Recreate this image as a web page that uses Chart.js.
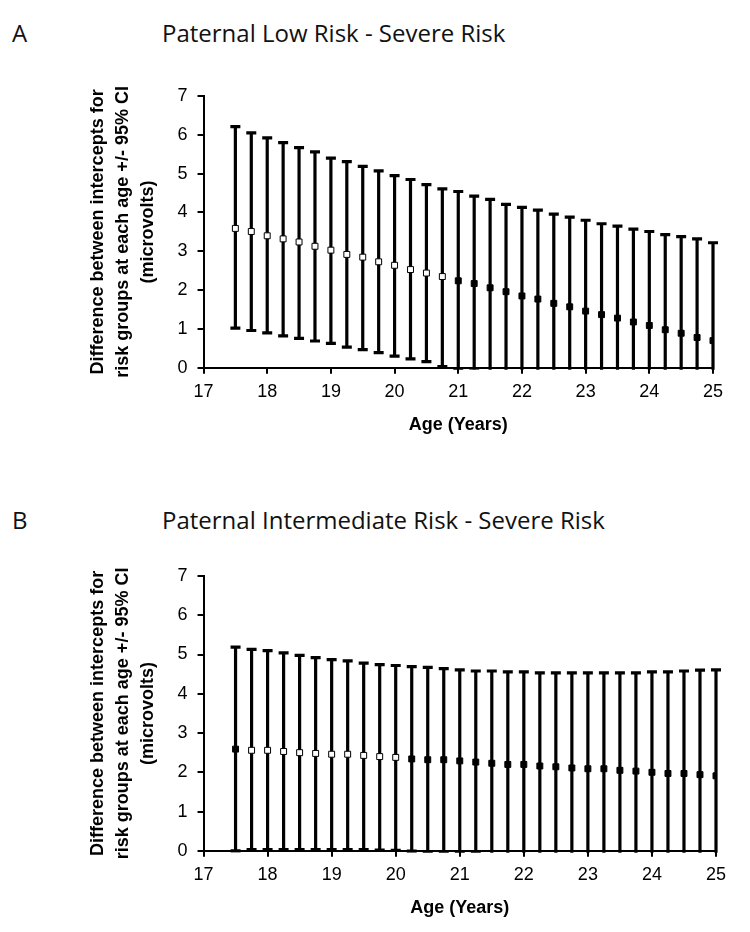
<!DOCTYPE html>
<html>
<head>
<meta charset="utf-8">
<script src="https://cdn.jsdelivr.net/npm/chart.js@4.4.1/dist/chart.umd.min.js"></script>
<style>
    html, body { margin: 0; padding: 0; background: #fff; }
    body { width: 750px; height: 932px; position: relative; overflow: hidden; }
    .panel-letter, .panel-title {
        position: absolute;
        font-family: "Open Sans", "Liberation Sans", sans-serif;
        font-size: 24px;
        color: #111;
        line-height: 1;
        white-space: nowrap;
    }
    .chart-box { position: absolute; left: 0; width: 750px; }
</style>
</head>
<body>
<div class="panel-letter" style="left:12px; top:21px;">A</div>
<div class="panel-title" style="left:162px; top:21px;">Paternal Low Risk - Severe Risk</div>
<div class="chart-box" style="top:62px; height:376px;"><canvas id="chartLow"></canvas></div>

<div class="panel-letter" style="left:12px; top:508px;">B</div>
<div class="panel-title" style="left:162px; top:508px;">Paternal Intermediate Risk - Severe Risk</div>
<div class="chart-box" style="top:542px; height:379px;"><canvas id="chartInt"></canvas></div>

<script>
// ========================================
// DATA
// ========================================

const ages = [17.5, 17.75, 18, 18.25, 18.5, 18.75, 19, 19.25, 19.5, 19.75, 20, 20.25, 20.5, 20.75, 21,
    21.25, 21.5, 21.75, 22, 22.25, 22.5, 22.75, 23, 23.25, 23.5, 23.75, 24, 24.25, 24.5, 24.75, 25];

// A - Paternal Low Risk - Severe Risk
const lowMean = [3.59, 3.51, 3.40, 3.32, 3.24, 3.13, 3.03, 2.92, 2.85, 2.73, 2.64, 2.53, 2.44, 2.35, 2.24,
    2.17, 2.06, 1.96, 1.85, 1.77, 1.66, 1.57, 1.46, 1.37, 1.28, 1.18, 1.09, 0.98, 0.89, 0.78, 0.70];
const lowUpper = [6.21, 6.05, 5.92, 5.80, 5.67, 5.56, 5.40, 5.31, 5.19, 5.07, 4.95, 4.85, 4.72, 4.61, 4.54,
    4.42, 4.34, 4.21, 4.13, 4.06, 3.96, 3.88, 3.80, 3.71, 3.65, 3.57, 3.51, 3.43, 3.38, 3.32, 3.22];
const lowLower = [1.02, 0.96, 0.90, 0.82, 0.76, 0.69, 0.63, 0.53, 0.47, 0.39, 0.30, 0.23, 0.16, 0.03, -0.02,
    -0.08, -0.22, -0.29, -0.43, -0.52, -0.64, -0.74, -0.88, -0.97, -1.09, -1.21, -1.33, -1.47, -1.60, -1.76, -1.82];

// B - Paternal Intermediate Risk - Severe Risk
const intMean = [2.59, 2.56, 2.56, 2.53, 2.50, 2.48, 2.46, 2.46, 2.43, 2.40, 2.38, 2.34, 2.32, 2.32, 2.29,
    2.26, 2.23, 2.20, 2.20, 2.16, 2.14, 2.11, 2.09, 2.09, 2.05, 2.03, 2.00, 1.97, 1.97, 1.94, 1.91];
const intUpper = [5.19, 5.13, 5.10, 5.04, 4.98, 4.92, 4.87, 4.84, 4.78, 4.74, 4.72, 4.69, 4.67, 4.64, 4.61,
    4.58, 4.58, 4.56, 4.56, 4.53, 4.53, 4.53, 4.53, 4.53, 4.53, 4.53, 4.56, 4.56, 4.58, 4.60, 4.61];
const intLower = [0.00, 0.03, 0.03, 0.03, 0.03, 0.03, 0.03, 0.03, 0.03, 0.02, 0.01, -0.01, -0.03, -0.03, -0.05,
    -0.07, -0.10, -0.15, -0.16, -0.20, -0.25, -0.30, -0.35, -0.35, -0.43, -0.47, -0.56, -0.62, -0.64, -0.72, -0.79];

const xTicks = [17, 18, 19, 20, 21, 22, 23, 24, 25];
const yTicks = [0, 1, 2, 3, 4, 5, 6, 7];

const yTitle = ['Difference between intercepts for', 'risk groups at each age +/- 95% CI', '(microvolts)'];
const xTitle = 'Age (Years)';

// ========================================
// ERROR BARS
// ========================================

const errorBarPlugin = {
    id: 'errorBars',
    beforeDatasetsDraw(chart, args, opts) {
        const { ctx, chartArea, scales } = chart;
        const upper = opts.upper || [];
        const lower = opts.lower || [];
        ctx.save();
        // barras abaixo de zero ficam cortadas no eixo
        ctx.beginPath();
        ctx.rect(chartArea.left - 10, chartArea.top - 10, chartArea.width + 20, chartArea.height + 12);
        ctx.clip();
        ctx.strokeStyle = '#000';
        ctx.lineWidth = 3.2;
        ctx.lineCap = 'butt';
        ages.forEach((age, i) => {
            const x = scales.x.getPixelForValue(age);
            const yTop = scales.y.getPixelForValue(upper[i]);
            const yBot = scales.y.getPixelForValue(lower[i]);
            ctx.beginPath();
            ctx.moveTo(x, yTop);
            ctx.lineTo(x, yBot);
            ctx.moveTo(x - 5, yTop);
            ctx.lineTo(x + 5, yTop);
            ctx.moveTo(x - 5, yBot);
            ctx.lineTo(x + 5, yBot);
            ctx.stroke();
        });
        ctx.restore();
    }
};

// ========================================
// CHARTS
// ========================================

const buildChart = (canvasId, mean, upper, lower, padRight) => {
    const points = ages.map((age, i) => ({ x: age, y: mean[i] }));
    // quadrado aberto quando o IC inferior fica acima de zero
    const fills = lower.map(v => (v > 0 ? '#fff' : '#000'));

    return new Chart(document.getElementById(canvasId), {
        type: 'scatter',
        data: {
            datasets: [{
                data: points,
                pointStyle: 'rect',
                pointRadius: 4.2,
                pointHoverRadius: 4.2,
                pointBackgroundColor: fills,
                pointBorderColor: '#000',
                pointBorderWidth: 1,
                showLine: false
            }]
        },
        options: {
            responsive: true,
            maintainAspectRatio: false,
            animation: false,
            layout: {
                padding: { left: 86, right: padRight, top: 34, bottom: 2 }
            },
            plugins: {
                legend: { display: false },
                tooltip: { enabled: false },
                errorBars: { upper, lower }
            },
            scales: {
                x: {
                    type: 'linear',
                    min: 17,
                    max: 25,
                    afterBuildTicks: (scale) => { scale.ticks = xTicks.map(v => ({ value: v })); },
                    grid: { display: true, drawOnChartArea: false, drawTicks: true, tickLength: 6, color: '#000', lineWidth: 2 },
                    border: { display: true, color: '#000', width: 2 },
                    ticks: {
                        color: '#000',
                        padding: 7,
                        maxRotation: 0,
                        font: { family: '"Liberation Sans", Arial, sans-serif', size: 18 }
                    },
                    title: {
                        display: true,
                        text: xTitle,
                        color: '#000',
                        padding: { top: 5, bottom: 0 },
                        font: { family: '"Liberation Sans", Arial, sans-serif', size: 18, weight: 'bold' }
                    }
                },
                y: {
                    type: 'linear',
                    min: 0,
                    max: 7,
                    afterBuildTicks: (scale) => { scale.ticks = yTicks.map(v => ({ value: v })); },
                    grid: { display: true, drawOnChartArea: false, drawTicks: true, tickLength: 6, color: '#000', lineWidth: 2 },
                    border: { display: true, color: '#000', width: 2 },
                    ticks: {
                        color: '#000',
                        padding: 10,
                        font: { family: '"Liberation Sans", Arial, sans-serif', size: 18 }
                    },
                    title: {
                        display: true,
                        text: yTitle,
                        color: '#000',
                        padding: { top: 0, bottom: 7 },
                        font: { family: '"Liberation Sans", Arial, sans-serif', size: 18, weight: 'bold', lineHeight: 1.38 }
                    }
                }
            }
        },
        plugins: [errorBarPlugin]
    });
};

buildChart('chartLow', lowMean, lowUpper, lowLower, 37);
buildChart('chartInt', intMean, intUpper, intLower, 34);
</script>
</body>
</html>
